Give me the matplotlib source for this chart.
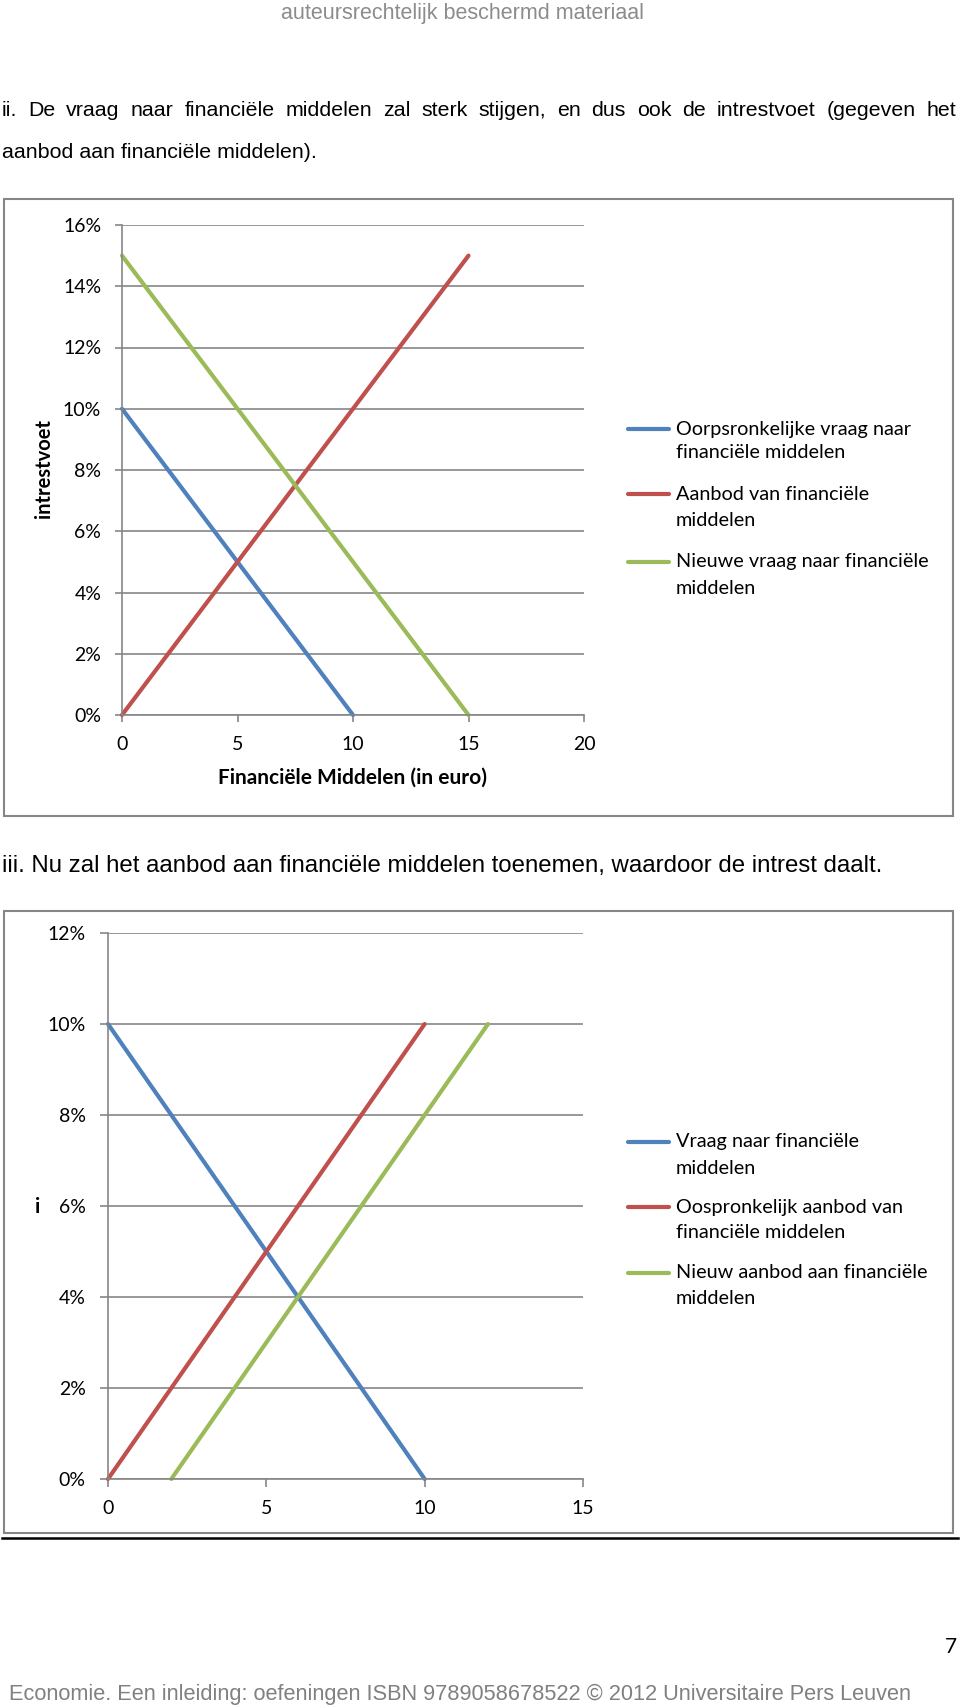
import matplotlib
matplotlib.use("Agg")
import matplotlib.pyplot as plt
from matplotlib.lines import Line2D
from matplotlib.patches import Rectangle
from matplotlib.ticker import FuncFormatter

# ---------------- data ----------------
# Chart 1 (ii): demand for funds increases
c1_xticks = [0, 5, 10, 15, 20]
c1_yticks = [0, 2, 4, 6, 8, 10, 12, 14, 16]
c1_blue_x = [0, 10]
c1_blue_y = [10, 0]
c1_red_x = [0, 15]
c1_red_y = [0, 15]
c1_green_x = [0, 15]
c1_green_y = [15, 0]
c1_labels = ["Oorpsronkelijke vraag naar\nfinanciële middelen",
             "Aanbod van financiële\nmiddelen",
             "Nieuwe vraag naar financiële\nmiddelen"]
c1_ylabel = "intrestvoet"
c1_xlabel = "Financiële Middelen (in euro)"

# Chart 2 (iii): supply of funds increases
c2_xticks = [0, 5, 10, 15]
c2_yticks = [0, 2, 4, 6, 8, 10, 12]
c2_blue_x = [0, 10]
c2_blue_y = [10, 0]
c2_red_x = [0, 10]
c2_red_y = [0, 10]
c2_green_x = [2, 12]
c2_green_y = [0, 10]
c2_labels = ["Vraag naar financiële\nmiddelen",
             "Oospronkelijk aanbod van\nfinanciële middelen",
             "Nieuw aanbod aan financiële\nmiddelen"]
c2_ylabel = "i"

watermark = "auteursrechtelijk beschermd materiaal"
para1_line1 = "ii. De vraag naar financiële middelen zal sterk stijgen, en dus ook de intrestvoet (gegeven het"
para1_line2 = "aanbod aan financiële middelen)."
para2 = "iii. Nu zal het aanbod aan financiële middelen toenemen, waardoor de intrest daalt."
footer = "Economie. Een inleiding: oefeningen ISBN 9789058678522 © 2012 Universitaire Pers Leuven"
page_no = "7"

BLUE = "#4F81BD"
RED = "#C0504D"
GREEN = "#9BBB59"
GRID = "#868686"

# ---------------- figure ----------------
W, H = 960, 1707
fig = plt.figure(figsize=(W / 100, H / 100), dpi=100)
fig.patch.set_facecolor("white")
R = fig.canvas.get_renderer()

CHART_FONT = ["Lato", "DejaVu Sans"]
BODY_FONT = ["Liberation Sans Narrow", "Liberation Sans", "DejaVu Sans"]
LEG_SIZE = 14.3
TICK_SIZE = 14


def fx(x):
    return x / W


def fy(y):
    return 1 - y / H


def fit_text(x0, x1, y, s, color="black", family=BODY_FONT, guess=14):
    t = fig.text(fx(x0), fy(y), s, ha="left", va="center", fontsize=guess,
                 family=family, color=color)
    w = t.get_window_extent(R).width
    t.set_fontsize(guess * (x1 - x0) / w)
    return t


def justify(x0, x1, y, s, size, color="black", family=BODY_FONT):
    words = s.split(" ")
    texts = [fig.text(0, fy(y), w, ha="left", va="center", fontsize=size,
                      family=family, color=color) for w in words]
    widths = [t.get_window_extent(R).width for t in texts]
    gap = (x1 - x0 - sum(widths)) / (len(words) - 1)
    x = x0
    for t, w in zip(texts, widths):
        t.set_x(fx(x))
        x += w + gap


def make_axes(left, right, top, bottom, xticks, yticks, xpad, ypad, ticklen):
    ax = fig.add_axes([fx(left), fy(bottom), (right - left) / W, (bottom - top) / H])
    ax.set_xlim(xticks[0], xticks[-1])
    ax.set_ylim(yticks[0], yticks[-1])
    ax.set_xticks(xticks)
    ax.set_yticks(yticks)
    ax.yaxis.set_major_formatter(FuncFormatter(lambda v, p: f"{v:.0f}%"))
    for s in ["top", "right"]:
        ax.spines[s].set_visible(False)
    for s in ["left", "bottom"]:
        ax.spines[s].set_color(GRID)
        ax.spines[s].set_linewidth(1.2)
    ax.yaxis.grid(True, color=GRID, linewidth=1.2)
    ax.set_axisbelow(True)
    ax.tick_params(axis="x", direction="out", length=ticklen, width=1.2, color=GRID,
                   pad=xpad, labelsize=TICK_SIZE, labelcolor="black")
    ax.tick_params(axis="y", direction="out", length=ticklen, width=1.2, color=GRID,
                   pad=ypad, labelsize=TICK_SIZE, labelcolor="black")
    for lab in ax.get_xticklabels() + ax.get_yticklabels():
        lab.set_family(CHART_FONT)
    return ax


def legend(labels, colors, ys):
    for lab, col, (y1, y2) in zip(labels, colors, ys):
        fig.add_artist(Line2D([fx(628), fx(669)], [fy(y1), fy(y1)], color=col,
                              lw=3, solid_capstyle="round", transform=fig.transFigure))
        l1, l2 = lab.split("\n")
        fig.text(fx(676), fy(y1), l1, ha="left", va="center", fontsize=LEG_SIZE,
                 family=CHART_FONT)
        fig.text(fx(676), fy(y2), l2, ha="left", va="center", fontsize=LEG_SIZE,
                 family=CHART_FONT)


def box(x0, x1, y0, y1):
    fig.add_artist(Rectangle((fx(x0), fy(y1)), (x1 - x0) / W, (y1 - y0) / H,
                             transform=fig.transFigure, fill=False,
                             edgecolor=GRID, lw=1.5))


# ---------------- texts ----------------
fit_text(281, 648, 14, watermark, color="#8c8c8c")
t2 = fit_text(2, 319, 153, para1_line2)
justify(2, 956, 111, para1_line1, t2.get_fontsize())
fit_text(2, 889, 866, para2)
fit_text(9, 918, 1694, footer, color="#808080")
fig.text(fx(957), fy(1647), page_no, ha="right", va="center", fontsize=15,
         family=CHART_FONT)

# ---------------- chart 1 ----------------
box(4, 953, 199, 816)
ax1 = make_axes(122, 584, 225, 715, c1_xticks, c1_yticks, xpad=10, ypad=10, ticklen=5)
ax1.plot(c1_blue_x, c1_blue_y, color=BLUE, lw=3, clip_on=False, solid_capstyle="round")
ax1.plot(c1_red_x, c1_red_y, color=RED, lw=3, clip_on=False, solid_capstyle="round")
ax1.plot(c1_green_x, c1_green_y, color=GREEN, lw=3, clip_on=False, solid_capstyle="round")
fig.text(fx(44), fy(469), c1_ylabel, rotation=90, ha="center", va="center",
         fontsize=14.5, fontweight="bold", family=CHART_FONT)
fig.text(fx(353), fy(778), c1_xlabel, ha="center", va="center",
         fontsize=15, fontweight="bold", family=CHART_FONT)
legend(c1_labels, [BLUE, RED, GREEN], [(429, 453), (494, 520), (562, 588)])

# ---------------- chart 2 ----------------
box(4, 953, 911, 1533)
ax2 = make_axes(108, 583, 933, 1479, c2_xticks, c2_yticks, xpad=9, ypad=10, ticklen=6)
ax2.plot(c2_blue_x, c2_blue_y, color=BLUE, lw=3, clip_on=False, solid_capstyle="round")
ax2.plot(c2_red_x, c2_red_y, color=RED, lw=3, clip_on=False, solid_capstyle="round")
ax2.plot(c2_green_x, c2_green_y, color=GREEN, lw=3, clip_on=False, solid_capstyle="round")
fig.text(fx(38), fy(1207), c2_ylabel, ha="center", va="center",
         fontsize=15, fontweight="bold", family=CHART_FONT)
legend(c2_labels, [BLUE, RED, GREEN], [(1142, 1168), (1207, 1233), (1273, 1299)])

# page rule under second chart
fig.add_artist(Line2D([fx(2), fx(958)], [fy(1537.5), fy(1537.5)], color="black",
                      lw=1.8, transform=fig.transFigure))

fig.savefig("out.png", dpi=100)
